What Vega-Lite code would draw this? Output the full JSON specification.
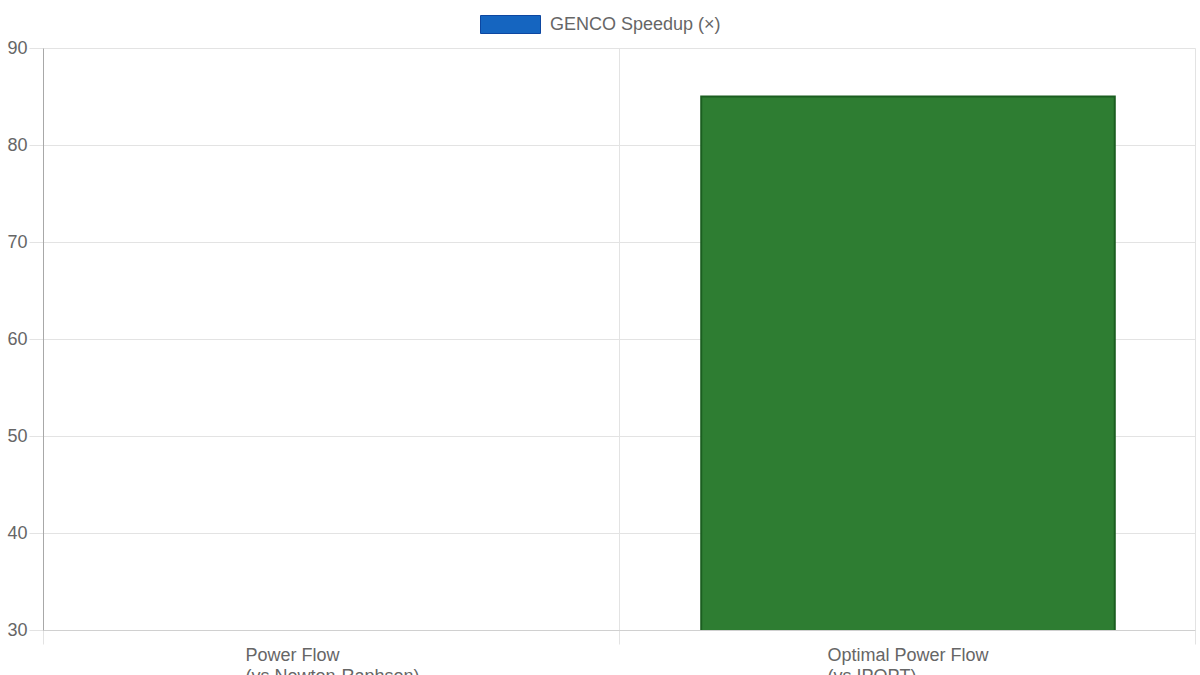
{
  "$schema": "https://vega.github.io/schema/vega-lite/v6.json",
  "width": 1152,
  "height": 582,
  "autosize": "none",
  "padding": {"left": 43, "top": 48, "right": 5, "bottom": 45},
  "background": "#ffffff",
  "data": {
    "values": [
      {"task": "Power Flow\n(vs Newton-Raphson)", "speedup": 20, "series": "GENCO Speedup (×)"},
      {"task": "Optimal Power Flow\n(vs IPOPT)", "speedup": 85, "series": "GENCO Speedup (×)"}
    ]
  },
  "encoding": {
    "x": {
      "field": "task",
      "type": "nominal",
      "sort": null,
      "title": null,
      "scale": {"paddingInner": 0, "paddingOuter": 0},
      "axis": {
        "labelAngle": 0,
        "labelExpr": "split(datum.label, '\\n')",
        "labelAlign": "left",
        "labelOffset": {"condition": {"test": "indexof(datum.label, 'Newton') >= 0", "value": -86}, "value": -80},
        "labelBaseline": "top",
        "labelPadding": 2,
        "labelLineHeight": 21,
        "tickBand": "extent",
        "grid": true,
        "gridColor": "#e3e3e3",
        "tickColor": "#e3e3e3",
        "tickSize": 14,
        "domainColor": "#d0d0d0"
      }
    },
    "y": {
      "field": "speedup",
      "type": "quantitative",
      "title": null,
      "scale": {"domain": [30, 90], "nice": false, "zero": false},
      "axis": {
        "values": [30, 40, 50, 60, 70, 80, 90],
        "grid": true,
        "gridColor": "#e3e3e3",
        "tickColor": "#e3e3e3",
        "tickSize": 14,
        "labelPadding": 2,
        "domainColor": "#a8a8a8"
      }
    }
  },
  "layer": [
    {
      "mark": {"type": "bar", "opacity": 0, "clip": true, "width": {"band": 0.72}},
      "encoding": {
        "color": {
          "field": "series",
          "type": "nominal",
          "title": null,
          "scale": {"range": ["#1565c0"]},
          "legend": {
            "orient": "none",
            "legendX": 437,
            "legendY": -54,
            "direction": "horizontal",
            "symbolType": "M-1,-0.3H1V0.3H-1Z",
            "symbolSize": 3600,
            "symbolOpacity": 1,
            "symbolStrokeColor": "#0d47a1",
            "symbolStrokeWidth": 1,
            "labelOffset": 9,
            "labelLimit": 0,
            "padding": 0
          }
        }
      }
    },
    {
      "mark": {
        "type": "bar",
        "clip": true,
        "width": {"band": 0.718},
        "xOffset": 1,
        "fill": "#2e7d32",
        "stroke": "#1b5e20",
        "strokeWidth": 2
      }
    }
  ],
  "config": {
    "font": "Liberation Sans",
    "view": {"stroke": null},
    "axis": {
      "labelFont": "Liberation Sans",
      "labelFontSize": 18,
      "labelColor": "#666666"
    },
    "legend": {
      "labelFont": "Liberation Sans",
      "labelFontSize": 18,
      "labelColor": "#666666"
    }
  }
}
